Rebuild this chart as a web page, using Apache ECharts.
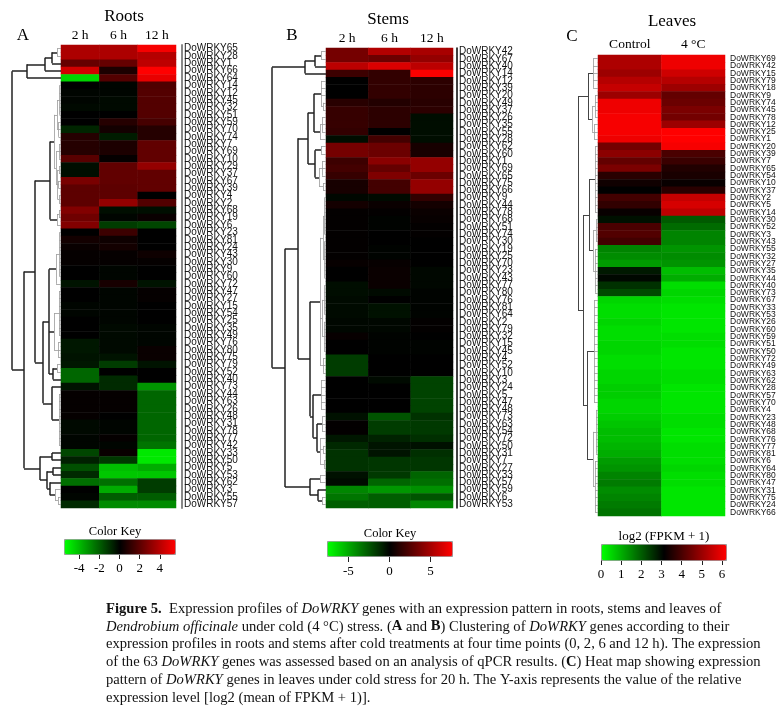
<!DOCTYPE html>
<html>
<head>
<meta charset="utf-8">
<title>DoWRKY heatmaps</title>
<script src="https://cdn.jsdelivr.net/npm/echarts@6.0.0/dist/echarts.min.js"></script>
<style>html,body{margin:0;padding:0;background:#fff;}#main{width:783px;height:707px;}</style>
</head>
<body>
<div id="main"></div>
<script>
// ---- data ----
const rootsTimes = ['2 h', '6 h', '12 h'];
const stemsTimes = ['2 h', '6 h', '12 h'];
const leavesConds = ['Control', '4 °C'];

const rootsGenes = [65,28,1,66,64,14,12,45,32,51,59,70,74,7,69,10,29,37,67,39,4,2,68,19,6,23,81,24,43,30,9,60,72,47,27,15,54,25,35,49,76,80,75,79,52,40,73,44,63,26,48,31,78,77,42,33,50,5,53,62,3,55,57];
const stemsGenes = [42,67,40,14,12,39,20,49,37,26,35,55,28,62,60,1,69,65,75,66,9,44,78,68,51,74,30,19,25,70,23,43,77,80,76,81,64,2,79,32,15,45,4,52,10,3,24,5,47,48,73,63,54,72,50,31,7,27,33,57,59,6,53];
const leavesGenes = [69,42,15,79,18,9,74,45,78,12,25,1,20,39,7,65,54,10,37,2,5,14,30,52,3,43,55,32,27,35,44,40,73,67,33,53,26,60,59,51,50,72,49,63,62,28,57,70,4,23,48,68,76,77,81,6,64,80,47,31,75,24,66];

const rootsH2 = [3.7,3.7,2.2,4.5,-4.6, 0,-0.1,-0.1,-0.2,0, 0,-0.8,0.8,0.8,0.8, 1.9,-0.3,-0.3,2.6,2.0, 2.0,2.0,2.8,2.4,2.8, 0,0.4,0.2,0.1,0.1, 0,0,-0.4,0,0, -0.1,-0.1,0,0,0, -0.5,-0.5,-0.4,-0.5,-2.2, -2.2,-0.4,0.1,0.1,0.1, 0.1,-0.2,-0.2,-0.1,-0.1, -1.5,-0.7,-1.7,-0.9,-2.4, 0,-0.1,-0.9];
const rootsH6 = [3.7,3.7,2.2,0.6,1.8, -0.1,-0.1,-0.2,-0.2,0, 0.8,0.4,-0.6,0.6,0.6, 0.1,2.1,2.1,2.1,2.0, 2.0,3.2,-0.3,-0.1,-1.3, 1.3,0.3,0.4,0.1,0.1, -0.1,-0.1,0.5,-0.1,-0.1, -0.1,-0.1,-0.1,-0.2,-0.2, -0.2,-0.2,-0.4,-1.3,0, -0.9,-0.9,0.1,0.1,0.1, 0,-0.1,-0.1,0.1,-0.1, 0.2,-1.2,-4.1,-4.3,-2.4, -3.7,-2,-3.0];
const rootsH12 = [5.3,3.9,4.1,5.5,5.0, 1.7,1.8,1.8,1.8,1.8, 1.5,0.8,0.8,2.1,2.1, 2.1,3.2,2.1,2.1,2.1, 0,1.8,-0.3,0.2,-1.5, 0,0,0,0.3,0.1, 0,0,-0.4,0.1,0.1, 0,0,0,-0.1,-0.1, -0.1,0.2,0.2,-0.4,0, 0,-3.2,-2.2,-2.2,-2.2, -2.2,-2.2,-2.2,-2.2,-2.5, -5,-5,-3.7,-4.3,-1.3, -1.3,-2,-3.0];

const stemsH2 = [3.5,3.5,5.6,1.8,0, 0,0,1.2,1.6,1.6, 1.6,1.5,-0.4,3.5,3.5, 1.8,2.0,1.6,0.7,0.7, -0.2,0.6,0.1,0.1,0.1, 0.1,0.1,0.1,0.1,0.2, 0,0,-0.4,-0.4,-0.3, -0.3,-0.3,-0.2,-0.2,0.2, 0,0,-1.8,-1.8,-1.8, 0,0,0,0,0, -0.5,0.1,0.1,-0.7,-1.2, -1.5,-1.5,-1.5,-0.5,-0.3, -4,-3.5,-2.8];
const stemsH6 = [5.3,3.2,6.5,1.5,1.5, 1.5,1.5,1.0,1.3,1.3, 1.3,0,2.0,3.2,3.2, 4.1,3.0,3.8,2.0,2.0, -0.3,0.3,0.1,-0.1,-0.1, 0,0,-0.1,-0.1,0.2, 0.3,0.3,0.3,-0.3,0, -0.5,-0.5,-0.2,-0.2,-0.1, -0.1,-0.1,0,0,0, -0.3,0,0,0,0, -2.5,-1.8,-1.8,-1,-0.6, -0.6,-1.6,-1.6,-1.7,-3, -4.5,-2.8,-2.8];
const stemsH12 = [5.0,4.4,5.6,7.5,1.3, 1.3,1.3,1.2,1.3,-0.4, -0.4,-0.4,-0.4,0.7,0.7, 4.4,4.4,3.2,4.4,4.4, 1.5,0.6,0.3,0.2,0.1, 0.1,0,0,0,0, -0.2,-0.2,-0.2,-0.1,-0.1, -0.1,-0.1,0.1,0.1,0, -0.1,-0.1,0,0,0, -2,-2,-2,-2,-2, -1.5,-1.7,-1.7,-1.4,-0.5, -1.4,-1.6,-1.6,-3,-3.3, -4.3,-2.5,-4];

const leavesControl = [5.2,5.2,5.0,5.3,5.5, 5.0,6.0,6.0,6.1,6.1, 6.1,6.0,4.5,4.8,4.3, 4.6,3.6,3.3,3.1,3.9, 3.7,3.2,2.9,4.0,4.1, 3.9,1.5,1.4,1.2,2.8, 3.0,2.5,2.2,0.5,0.4, 0.4,0.5,0.4,0.4,0.5, 0.5,0.4,0.4,0.5,0.5, 0.6,0.6,0.5,0.5,0.6, 0.7,0.8,0.8,0.9,1.0, 1.2,1.3,1.5,1.6,1.4, 1.5,1.6,1.7];
const leavesCold = [6.0,6.0,5.6,5.3,5.0, 4.3,4.4,4.6,4.5,5.0, 6.2,6.2,6.1,4.0,3.8, 3.5,3.4,3.2,3.6,5.5, 5.7,5.4,2.0,1.8,1.5, 1.5,1.3,1.4,1.3,0.8, 1.0,0.4,0.5,0.4,0.3, 0.3,0.3,0.3,0.4,0.4, 0.3,0.3,0.3,0.4,0.4, 0.3,0.3,0.3,0.3,0.4, 0.4,0.3,0.3,0.4,0.4, 0.4,0.5,0.4,0.4,0.3, 0.3,0.3,0.3];

// dendrograms: [height, child, child, ...], leaves are row numbers (1 = top)
const rootsTree = [49,
  [34, [16, [9, [4, 1, 2], 3], 4], 5],
  [37,
    [26,
      [11,
        [7,
          [4, [1.5, 6, 7, 8, 9, 10], [2.5, 11, 12, 13]],
          [5, [2, 14, 15, 16], [3.5, [2, 17, 18], [2.5, 19, 20], [2, 21, 22]]]],
        [4, [2, 23, 24], 25]],
      [18,
        [12,
          [5, [1.5, 26, 27, 28, 29, 30, 31, 32], 33],
          [7, [2, 34, 35, 36, 37, 38, 39, 40], [3, 41, 42, 43]],
          [8, [4, 44, 45], 46]],
        [9, 47, [2, 48, 49, 50, 51, 52, 53, 54, 55]]]],
    [21, [9, 56, 57], [14, [8, 58, 59], [11, 60, [6, 61, [3, 62, 63]]]]]]];

const stemsTree = [54,
  [21, [11, [5, 1, 2], 3], 4],
  [41,
    [28,
      [18,
        [12, [5, 5, 6, 7, [3, 8, 9]], [6, [4, 10, 11, 12], 13]],
        [11, [5, 14, 15], [7, [4, 16, 17, 18], [3, 19, 20]]]],
      [16,
        [6, [3, [1.5, 21, 22, 23, 24, 25, 26], [1.5, 27, 28, 29, 30, 31, 32]],
            [4, [1.5, 33, 34, 35, 36, 37], [2, 38, 39, 40, 41, 42]],
            [3, 43, 44, 45]],
        [13, [5, 46, 47, 48, 49, 50], [9, [4, 51, 52, 53], [6, 54, [3, 55, 56], [2, 57, 58]]]]]],
    [16, [6, 59, 60], [8, 61, [4, 62, 63]]]]];

const leavesTree = [20,
  [10, [5, 1, 2, 3, 4, 5], [6, [3, 6, 7, 8, 9], [4, 10, 11, 12]]],
  [15,
    [9, [3, 13, 14, 15, 16, 17, 18, 19, 20, 21, 22], [5, [2, 23, 24, 25, 26], [3, 27, 28, 29, 30, 31, 32, 33]]],
    [11, [4, 34, 35, 36, 37, 38, 39, 40, 41, 42, 43, 44, 45, 46, 47, 48],
        [5, [2, 49, 50, 51, 52, 53, 54, 55], [3, 56, 57, 58, 59, 60, 61, 62, 63]]]]];

const rootsKeyTicks = [-4, -2, 0, 2, 4];
const stemsKeyTicks = [-5, 0, 5];
const leavesKeyTicks = [0, 1, 2, 3, 4, 5, 6];

// ---- helpers ----
const SERIF = 'Liberation Serif';
const SANS = 'Liberation Sans';
const label = g => 'DoWRKY' + g;

function heatData(cols) {
  const out = [];
  cols.forEach((col, x) => col.forEach((v, y) => out.push([x, y, v])));
  return out;
}

function dendro(tree, cut, major, minor) {
  const segs = [];
  function walk(n) {
    if (typeof n === 'number') return { y: n - 0.5, h: 0 };
    const h = n[0];
    const kids = n.slice(1).map(walk);
    const ys = kids.map(k => k.y);
    const y0 = Math.min.apply(null, ys), y1 = Math.max.apply(null, ys);
    const st = h >= cut ? major : minor;
    segs.push({ coords: [[h, y0], [h, y1]], lineStyle: st });
    kids.forEach(k => segs.push({ coords: [[k.h, k.y], [h, k.y]], lineStyle: st }));
    return { y: (y0 + y1) / 2, h: h };
  }
  walk(tree);
  return segs;
}

function heatX(i, data, margin) {
  return { gridIndex: i, type: 'category', data: data, position: 'top',
    axisLine: { show: false }, axisTick: { show: false }, splitLine: { show: false },
    axisLabel: { fontFamily: SERIF, fontSize: 13.5, color: '#000', margin: margin } };
}
function heatY(i, genes, offset, line, fs, font) {
  return { gridIndex: i, type: 'category', data: genes.map(label), inverse: true,
    position: 'right', offset: offset,
    axisLine: line ? { show: true, lineStyle: line } : { show: false },
    axisTick: { show: false }, splitLine: { show: false },
    axisLabel: { interval: 0, fontFamily: font, fontSize: fs, color: '#111', margin: 2 } };
}
function dendX(i, w) { return { gridIndex: i, type: 'value', min: 0, max: w, inverse: true, show: false }; }
function dendY(i) { return { gridIndex: i, type: 'value', min: 0, max: 63, inverse: true, show: false }; }
function keyX(i, min, max, ticks, len, margin) {
  return { gridIndex: i, type: 'value', min: min, max: max, position: 'bottom',
    axisLine: { show: false }, splitLine: { show: false },
    axisTick: { show: true, customValues: ticks, length: len, lineStyle: { color: '#222', width: 1 } },
    axisLabel: { customValues: ticks, margin: margin, fontFamily: SERIF, fontSize: 13, color: '#000' } };
}
function keyY(i) { return { gridIndex: i, type: 'value', show: false }; }
function vmap(idx, min, max, left, top, len, thick) {
  return { type: 'continuous', seriesIndex: idx, min: min, max: max, orient: 'horizontal',
    left: left, top: top, itemWidth: thick, itemHeight: len, calculable: false, hoverLink: false,
    padding: 0, borderWidth: 1, borderColor: '#999',
    inRange: { color: ['#00ff00', '#000000', '#ff0000'] } };
}
function txt(x, y, s, size, extra) {
  return Object.assign({ type: 'text', x: x, y: y, silent: true,
    style: { text: s, fill: '#000', fontFamily: SERIF, fontSize: size,
      align: 'center', verticalAlign: 'middle', textAlign: 'center', textVerticalAlign: 'middle' } }, extra || {});
}

const majorLine = { color: '#222', width: 1.5, opacity: 1 };
const minorLine = { color: '#9a9a9a', width: 0.8, opacity: 1 };
const leafMajor = { color: '#444', width: 1, opacity: 1 };

const CAP = 14.6, CAPLH = 17.8;
const caption =
  '{b|Figure 5.}  Expression profiles of {i|DoWRKY} genes with an expression pattern in roots, stems and leaves of\n' +
  '{i|Dendrobium officinale} under cold (4 °C) stress. ({b|A} and {b|B}) Clustering of {i|DoWRKY} genes according to their\n' +
  'expression profiles in roots and stems after cold treatments at four time points (0, 2, 6 and 12 h). The expression\n' +
  'of the 63 {i|DoWRKY} genes was assessed based on an analysis of qPCR results. ({b|C}) Heat map showing expression\n' +
  'pattern of {i|DoWRKY} genes in leaves under cold stress for 20 h. The Y-axis represents the value of the relative\n' +
  'expression level [log2 (mean of FPKM + 1)].';

const chart = echarts.init(document.getElementById('main'));
chart.setOption({
  backgroundColor: '#fff',
  animation: false,
  grid: [
    { left: 61, top: 45, width: 115, height: 463 },
    { left: 326, top: 48, width: 127, height: 460 },
    { left: 598, top: 55, width: 127, height: 461 },
    { left: 10, top: 45, width: 51, height: 463 },
    { left: 270, top: 48, width: 56, height: 460 },
    { left: 576, top: 55, width: 22, height: 461 },
    { left: 64, top: 539, width: 111, height: 15 },
    { left: 327, top: 541, width: 125, height: 15 },
    { left: 601, top: 544, width: 125, height: 16 }
  ],
  xAxis: [
    heatX(0, rootsTimes, 3), heatX(1, stemsTimes, 3), heatX(2, leavesConds, 4),
    dendX(3, 51), dendX(4, 56), dendX(5, 22),
    keyX(6, -5.5, 5.5, rootsKeyTicks, 5, 8),
    keyX(7, -7.6, 7.6, stemsKeyTicks, 6, 9),
    keyX(8, 0, 6.2, leavesKeyTicks, 5, 8)
  ],
  yAxis: [
    heatY(0, rootsGenes, 6, { color: '#888', width: 2 }, 10, SANS),
    heatY(1, stemsGenes, 4, { color: '#000', width: 1.5 }, 10, SANS),
    heatY(2, leavesGenes, 3, null, 8.5, "'Liberation Sans Narrow', 'Liberation Sans'"),
    dendY(3), dendY(4), dendY(5),
    keyY(6), keyY(7), keyY(8)
  ],
  visualMap: [
    vmap(0, -5.5, 5.5, 64, 539, 111, 15),
    vmap(1, -7.6, 7.6, 327, 541, 125, 15),
    vmap(2, 0, 6.2, 601, 544, 125, 16)
  ],
  series: [
    { type: 'heatmap', xAxisIndex: 0, yAxisIndex: 0, data: heatData([rootsH2, rootsH6, rootsH12]),
      itemStyle: { borderWidth: 0 }, emphasis: { disabled: true }, silent: true },
    { type: 'heatmap', xAxisIndex: 1, yAxisIndex: 1, data: heatData([stemsH2, stemsH6, stemsH12]),
      itemStyle: { borderWidth: 0 }, emphasis: { disabled: true }, silent: true },
    { type: 'heatmap', xAxisIndex: 2, yAxisIndex: 2, data: heatData([leavesControl, leavesCold]),
      itemStyle: { borderWidth: 0 }, emphasis: { disabled: true }, silent: true },
    { type: 'lines', coordinateSystem: 'cartesian2d', xAxisIndex: 3, yAxisIndex: 3, silent: true,
      lineStyle: { opacity: 1 }, data: dendro(rootsTree, 8, majorLine, minorLine) },
    { type: 'lines', coordinateSystem: 'cartesian2d', xAxisIndex: 4, yAxisIndex: 4, silent: true,
      lineStyle: { opacity: 1 }, data: dendro(stemsTree, 8, majorLine, minorLine) },
    { type: 'lines', coordinateSystem: 'cartesian2d', xAxisIndex: 5, yAxisIndex: 5, silent: true,
      lineStyle: { opacity: 1 }, data: dendro(leavesTree, 9, leafMajor, minorLine) }
  ],
  graphic: [
    txt(124, 17, 'Roots', 17),
    txt(388, 20, 'Stems', 17),
    txt(672, 22, 'Leaves', 17),
    txt(23, 36, 'A', 17),
    txt(292, 36, 'B', 17),
    txt(572, 37, 'C', 17),
    txt(115, 532, 'Color Key', 12.5),
    txt(390, 534, 'Color Key', 12.5),
    txt(664, 537, 'log2 (FPKM + 1)', 13),
    { type: 'text', x: 106, y: 600, silent: true,
      style: { text: caption, fill: '#111', fontFamily: SERIF, fontSize: CAP, lineHeight: CAPLH,
        align: 'left', verticalAlign: 'top', textAlign: 'left', textVerticalAlign: 'top',
        rich: {
          b: { fontFamily: SERIF, fontSize: CAP, fontWeight: 'bold', lineHeight: CAPLH },
          i: { fontFamily: SERIF, fontSize: CAP, fontStyle: 'italic', lineHeight: CAPLH }
        } } }
  ]
});
</script>
</body>
</html>
